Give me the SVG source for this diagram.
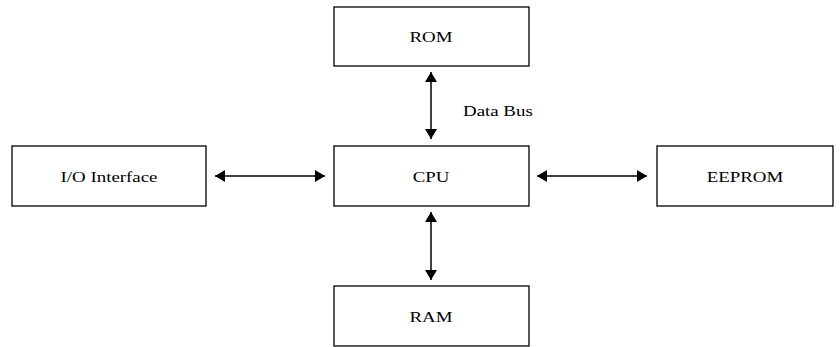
<svg xmlns="http://www.w3.org/2000/svg" width="840" height="347" viewBox="0 0 840 347">
<defs>
<marker id="ah" viewBox="0 0 10 12" refX="10" refY="6" markerWidth="10" markerHeight="12" markerUnits="userSpaceOnUse" orient="auto-start-reverse">
<path d="M0,0 L10,6 L0,12 Z" fill="#000"/>
</marker>
<style>
.box{fill:#fff;stroke:#000;stroke-width:1.3}
.lbl{font-family:"Liberation Serif","Times New Roman",serif;font-size:15px;fill:#000;text-anchor:middle}
.con{stroke:#000;stroke-width:1.5;fill:none;marker-start:url(#ah);marker-end:url(#ah)}
</style>
</defs>
<rect width="840" height="347" fill="#fff"/>
<g id="rom"><rect class="box" x="334" y="7" width="195" height="59"/><text class="lbl" transform="translate(431,42) scale(1.26,1)">ROM</text></g>
<g id="cpu"><rect class="box" x="334" y="146" width="195" height="60"/><text class="lbl" transform="translate(431,182) scale(1.26,1)">CPU</text></g>
<g id="ram"><rect class="box" x="334" y="286" width="195" height="60"/><text class="lbl" transform="translate(431,322) scale(1.26,1)">RAM</text></g>
<g id="io"><rect class="box" x="12" y="146" width="194" height="60"/><text class="lbl" transform="translate(109,182) scale(1.26,1)">I/O Interface</text></g>
<g id="eeprom"><rect class="box" x="657" y="146" width="176" height="60"/><text class="lbl" transform="translate(745,182) scale(1.26,1)">EEPROM</text></g>
<g id="connectors">
<line class="con" x1="431" y1="72" x2="431" y2="139"/>
<line class="con" x1="431" y1="212" x2="431" y2="280"/>
<line class="con" x1="215" y1="176" x2="325" y2="176"/>
<line class="con" x1="537" y1="176" x2="647" y2="176"/>
<text class="lbl" style="text-anchor:start" transform="translate(463,116) scale(1.26,1)">Data Bus</text>
</g>
</svg>
